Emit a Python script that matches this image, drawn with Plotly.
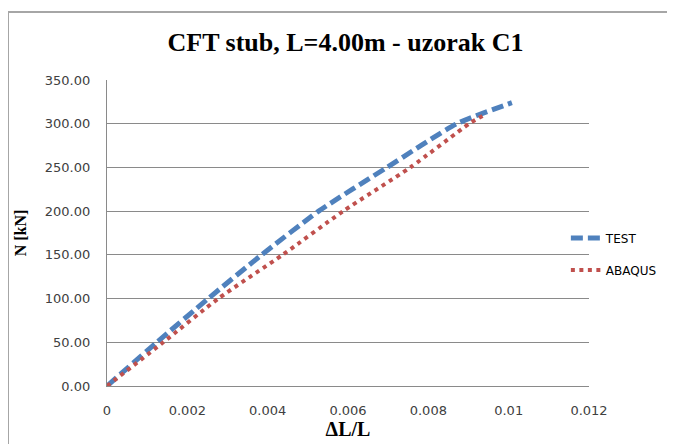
import plotly.graph_objects as go

test_x = [0, 0.00124, 0.00252, 0.00385, 0.00527, 0.00697, 0.00871, 0.01008]
test_y = [0, 50, 100, 150, 200, 250, 300, 324]
abaqus_x = [0, 0.0014, 0.00277, 0.00437, 0.00588, 0.00755, 0.00902, 0.00943]
abaqus_y = [0, 50, 100, 150, 200, 250, 300, 311]
x_ticks = [0, 0.002, 0.004, 0.006, 0.008, 0.01, 0.012]
x_tick_text = ["0", "0.002", "0.004", "0.006", "0.008", "0.01", "0.012"]
y_ticks = [0, 50, 100, 150, 200, 250, 300, 350]

fig = go.Figure()
fig.add_trace(go.Scatter(x=test_x, y=test_y, mode="lines", name="TEST", legendgroup="a",
                         line=dict(color="#4F81BD", width=5, dash="12px,5px", shape="spline", smoothing=0.6)))
fig.add_trace(go.Scatter(x=abaqus_x, y=abaqus_y, mode="lines", name="ABAQUS", legendgroup="b",
                         line=dict(color="#C0504D", width=4, dash="4px,4.5px", shape="spline", smoothing=0.6)))

# Page is offset by 8px body margin: plot area in figure coords x 99..581, y 72..378
fig.update_layout(
    width=675, height=444,
    margin=dict(l=99, r=94, t=72, b=66),
    paper_bgcolor="white", plot_bgcolor="white",
    title=dict(text="<b>CFT stub, L=4.00m - uzorak C1</b>", x=0.5, xanchor="center",
               y=1 - 34 / 444, yanchor="middle",
               font=dict(family="Liberation Serif", size=26, color="black")),
    showlegend=True,
    legend=dict(x=0.952, y=0.431, xanchor="left", yanchor="middle",
                font=dict(family="DejaVu Sans", size=12, color="#000000"),
                bgcolor="rgba(0,0,0,0)", tracegroupgap=13),
    xaxis=dict(range=[0, 0.012], tickvals=x_ticks, ticktext=x_tick_text,
               showgrid=False, zeroline=False, showline=True, linecolor="#8a8a8a", linewidth=1.3,
               ticks="", ticklabelstandoff=12,
               tickfont=dict(family="DejaVu Sans", size=13, color="#404040"),
               title=dict(text="<b>ΔL/L</b>", standoff=3,
                          font=dict(family="Liberation Serif", size=20, color="black"))),
    yaxis=dict(range=[0, 350], tickvals=y_ticks, tickformat=".2f",
               showgrid=True, gridcolor="#8a8a8a", gridwidth=1.3, zeroline=False,
               showline=True, linecolor="#8a8a8a", linewidth=1.3,
               ticks="", ticklabelstandoff=13,
               tickfont=dict(family="DejaVu Sans", size=13, color="#404040"),
               title=dict(text="<b>N [kN]</b>", standoff=14,
                          font=dict(family="Liberation Serif", size=16, color="black"))),
    shapes=[dict(type="rect", xref="paper", yref="paper", x0=-99 / 482, x1=1.4, y0=-0.5, y1=(378 - 4) / 306,
                 line=dict(color="#A6A6A6", width=2), fillcolor="rgba(0,0,0,0)", layer="below")],
)

fig.write_html("out.html")
